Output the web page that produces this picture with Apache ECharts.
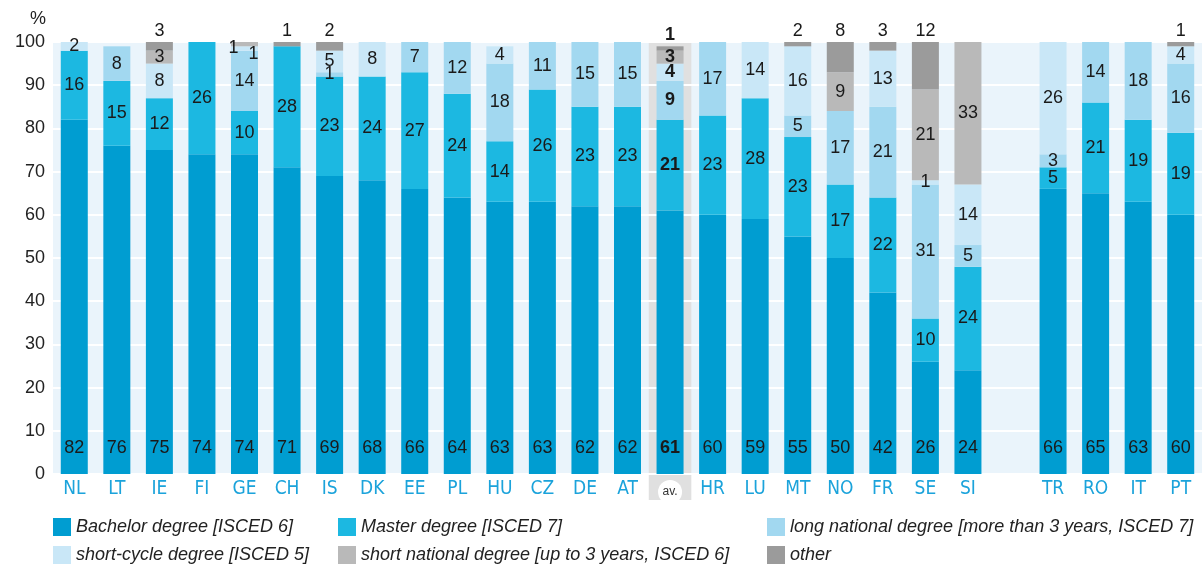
<!DOCTYPE html>
<html>
<head>
<meta charset="utf-8">
<script src="https://cdn.jsdelivr.net/npm/echarts@6/dist/echarts.min.js"></script>
<style>
  html, body { margin: 0; padding: 0; background: #fff; }
  #degreeChart { width: 1202px; height: 564px; }
</style>
</head>
<body>
<div id="degreeChart"></div>
<script>
// categories (empty slot between SI and TR)
const categories = ['NL', 'LT', 'IE', 'FI', 'GE', 'CH', 'IS', 'DK', 'EE', 'PL', 'HU', 'CZ', 'DE', 'AT', 'av.', 'HR', 'LU', 'MT', 'NO', 'FR', 'SE', 'SI', '', 'TR', 'RO', 'IT', 'PT']

const bachelor = [82, 76, 75, 74, 74, 71, 69, 68, 66, 64, 63, 63, 62, 62, 61, 60, 59, 55, 50, 42, 26, 24, null, 66, 65, 63, 60]
const master = [16, 15, 12, 26, 10, 28, 23, 24, 27, 24, 14, 26, 23, 23, 21, 23, 28, 23, 17, 22, 10, 24, null, 5, 21, 19, 19]
const longNational = [null, 8, null, null, 14, null, 1, null, 7, 12, 18, 11, 15, 15, 9, 17, null, 5, 17, 21, 31, 5, null, 3, 14, 18, 16]
const shortCycle = [2, null, 8, null, 1, null, 5, 8, null, null, 4, null, null, null, 4, null, 14, 16, null, 13, 1, 14, null, 26, null, null, 4]
const shortNational = [null, null, 3, null, 1, null, null, null, null, null, null, null, null, null, 3, null, null, null, 9, null, 21, 33, null, null, null, null, null]
const other = [null, null, 3, null, null, 1, 2, null, null, null, null, null, null, null, 1, null, null, 2, 8, 3, 12, null, null, null, null, null, 1]

const yTicks = [0, 10, 20, 30, 40, 50, 60, 70, 80, 90, 100]

const seriesNames = [
  'Bachelor degree [ISCED 6]',
  'Master degree [ISCED 7]',
  'long national degree [more than 3 years, ISCED 7]',
  'short-cycle degree [ISCED 5]',
  'short national degree [up to 3 years, ISCED 6]',
  'other'
]
const seriesData = [bachelor, master, longNational, shortCycle, shortNational, other]
const colorList = ['#009dd1', '#1cb8e1', '#a2d8f0', '#c9e7f7', '#b9b9b9', '#9b9b9b']

const numFont = '"Liberation Sans", Arial, sans-serif'
const avIndex = categories.indexOf('av.')

// small hand-placed label nudges (GE top slivers)
const labelNudge = {
  '3-4': [9, 6],
  '4-4': [-11, 4]
}

const chartBox = echarts.init(document.getElementById('degreeChart'))

const mainSeries = seriesNames.map((name, s) => {
  let labelPos = 'inside'
  let labelDist = 5
  if (s === 0) { labelPos = 'insideBottom'; labelDist = 17 }
  if (s === 5) { labelPos = 'top'; labelDist = 2 }
  return {
    name: name,
    type: 'bar',
    stack: 'total',
    barWidth: 27,
    z: 3,
    itemStyle: { color: colorList[s] },
    label: {
      show: true,
      position: labelPos,
      distance: labelDist,
      color: '#1a1a1a',
      fontSize: 18,
      fontFamily: numFont,
      formatter: function (p) {
        return p.value == null ? '' : p.value
      }
    },
    emphasis: { disabled: true },
    data: seriesData[s].map((v, i) => {
      const item = { value: v }
      const nudge = labelNudge[s + '-' + i]
      if (i === avIndex) item.label = { fontWeight: 'bold' }
      if (nudge) item.label = Object.assign({}, item.label, { offset: nudge })
      return item
    })
  }
})

// grey band behind the average column (reaches under the axis)
const bandTop = categories.map((c, i) => (i === avIndex ? 100 : null))
const bandBottom = categories.map((c, i) => (i === avIndex ? -6 : null))
const bandSeries = [bandTop, bandBottom].map((d, k) => ({
  name: 'band' + k,
  type: 'bar',
  xAxisIndex: 1,
  stack: 'band',
  barWidth: '100%',
  clip: false,
  silent: true,
  z: 1,
  itemStyle: { color: '#e0e0e0' },
  data: d
}))

// legend: 3 columns x 2 rows, series in reading order
const legendPos = [
  [53, 518], [338, 518], [767, 518],
  [53, 546], [338, 546], [767, 546]
]
const legends = seriesNames.map((name, s) => ({
  data: [name],
  left: legendPos[s][0],
  top: legendPos[s][1],
  icon: 'rect',
  itemWidth: 18,
  itemHeight: 18,
  itemGap: 0,
  selectedMode: false,
  padding: 0,
  textStyle: {
    fontSize: 18,
    fontStyle: 'italic',
    color: '#222',
    fontFamily: numFont
  }
}))

const option = {
  backgroundColor: '#fff',
  animation: false,
  legend: legends,
  grid: {
    left: 53,
    right: 0,
    top: 42,
    bottom: 90,
    show: true,
    backgroundColor: '#eaf4fb',
    borderWidth: 0
  },
  xAxis: [
    {
      type: 'category',
      data: categories,
      z: 4,
      axisLine: { show: false },
      axisTick: { show: false },
      axisLabel: {
        interval: 0,
        margin: 6,
        color: '#1ba3db',
        fontSize: 19,
        fontFamily: '"Liberation Sans Narrow", "DejaVu Sans Condensed", sans-serif',
        formatter: function (v) {
          return v === 'av.' ? '{av|av.}' : v
        },
        rich: {
          av: {
            backgroundColor: '#fff',
            borderRadius: 12,
            width: 24,
            height: 24,
            lineHeight: 24,
            align: 'center',
            color: '#333',
            fontSize: 12,
            fontFamily: numFont
          }
        }
      }
    },
    {
      type: 'category',
      data: categories,
      show: false
    }
  ],
  yAxis: {
    type: 'value',
    min: yTicks[0],
    max: yTicks[yTicks.length - 1],
    interval: yTicks[1] - yTicks[0],
    z: 2,
    name: '%',
    nameLocation: 'end',
    nameGap: 14,
    nameTextStyle: {
      align: 'right',
      padding: [0, 7, 0, 0],
      color: '#222',
      fontSize: 18,
      fontFamily: numFont
    },
    axisLine: { show: false },
    axisTick: { show: false },
    axisLabel: {
      margin: 8,
      color: '#222',
      fontSize: 18,
      fontFamily: numFont
    },
    splitLine: { lineStyle: { color: '#ffffff', width: 2 } }
  },
  series: bandSeries.concat(mainSeries)
}

chartBox.setOption(option, true)
</script>
</body>
</html>
